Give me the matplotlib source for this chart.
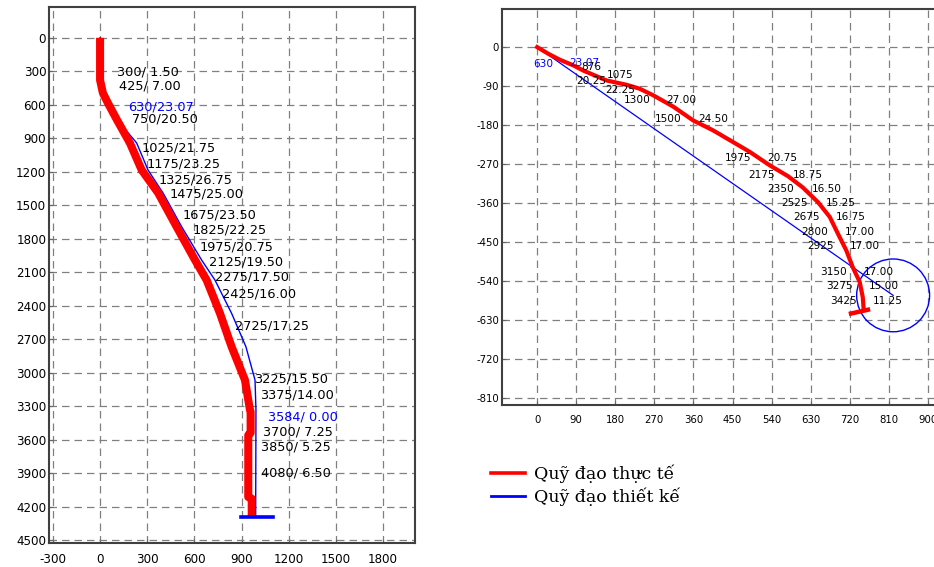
import matplotlib
matplotlib.use("Agg")
import matplotlib.pyplot as plt
import numpy as np
from matplotlib.lines import Line2D
from matplotlib.patches import Circle

plt.rcParams['font.family'] = ['DejaVu Sans']
plt.rcParams['axes.unicode_minus'] = False

# --- vertical section (left): displacement vs TVD ---
vs_actual = [0, 0, 18, 50, 108, 190, 265, 370, 487, 604, 678, 763, 837, 922, 954,
             958, 958, 943, 943, 965, 965]
tvd_actual = [0, 379, 495, 585, 737, 943, 1185, 1391, 1693, 1991, 2171, 2469, 2768, 3067, 3336,
              3350, 3540, 3560, 4115, 4130, 4295]

vs_plan = [0, 0, 20, 55, 95, 233, 305, 402, 519, 646, 731, 837, 928, 986, 992, 990]
tvd_plan = [0, 400, 510, 610, 711, 943, 1185, 1394, 1693, 1991, 2171, 2469, 2768, 3067, 3336, 4297]

vs_labels = ["300/ 1.50", "425/ 7.00", "630/23.07", "750/20.50", "1025/21.75", "1175/23.25",
             "1325/26.75", "1475/25.00", "1675/23.50", "1825/22.25", "1975/20.75", "2125/19.50",
             "2275/17.50", "2425/16.00", "2725/17.25", "3225/15.50", "3375/14.00", "3584/ 0.00",
             "3700/ 7.25", "3850/ 5.25", "4080/ 6.50"]
vs_label_x = [108, 120, 178, 203, 267, 298, 375, 445, 528, 591, 636, 693, 731, 776, 858,
              979, 1017, 1068, 1037, 1024, 1024]
vs_label_y = [307, 433, 621, 728, 988, 1131, 1275, 1400, 1588, 1723, 1875, 2010, 2144, 2296, 2583,
              3058, 3201, 3398, 3533, 3667, 3900]
vs_label_blue = ["630/23.07", "3584/ 0.00"]

# --- plan view (right): east vs north ---
east_actual = [0, 25, 52, 83, 106, 160, 206, 236, 267, 313, 359, 405, 451, 490, 536, 578, 612,
               647, 674, 693, 712, 727, 743, 750, 752]
north_actual = [0, -15, -29, -42, -54, -77, -87, -96, -111, -137, -169, -192, -219, -242, -273,
                -298, -324, -358, -392, -431, -469, -508, -542, -577, -604]

east_plan = [0, 820]
north_plan = [0, -573]
target_radius = 84

plan_md = ["630", "876", "1075", "1300", "1500", "1975", "2175", "2350", "2525", "2675",
           "2800", "2925", "3150", "3275", "3425"]
plan_md_x = [-10, 101, 160, 200, 271, 432, 487, 531, 563, 589, 609, 623, 653, 665, 674]
plan_md_y = [-40, -46, -65, -121, -165, -256, -294, -327, -360, -392, -427, -459, -519, -552, -586]
plan_inc = ["23.07", "20.25", "22.25", "27.00", "24.50", "20.75", "18.75", "16.50", "15.25",
            "16.75", "17.00", "17.00", "17.00", "15.00", "11.25"]
plan_inc_x = [75, 91, 156, 298, 370, 531, 589, 632, 665, 688, 708, 720, 752, 763, 773]
plan_inc_y = [-36, -78, -100, -121, -165, -256, -294, -327, -360, -392, -427, -459, -519, -552, -586]

grid_kw = dict(color='#808080', linestyle=(0, (6, 4)), linewidth=0.9)

fig = plt.figure(figsize=(9.34, 5.67), dpi=100)

# left panel
ax1 = fig.add_axes([49/934, 1-543/567, 366/934, 536/567])
ax1.plot(vs_plan, tvd_plan, color='#0000ff', lw=1.0, zorder=2)
ax1.plot(vs_actual, tvd_actual, color='#ff0000', lw=5.8, solid_capstyle='butt', zorder=3)
ax1.plot([895, 1102], [4297, 4297], color='#0000ff', lw=2.6, zorder=4)
for t, x, y in zip(vs_labels, vs_label_x, vs_label_y):
    c = '#0000ff' if t in vs_label_blue else 'black'
    ax1.text(x, y, t, fontsize=9.3, color=c, ha='left', va='center', zorder=5)
ax1.set_xlim(-325, 2004)
ax1.set_ylim(4527, -276)
ax1.set_xticks(np.arange(-300, 1801, 300))
ax1.set_yticks(np.arange(0, 4501, 300))
ax1.grid(True, **grid_kw)
ax1.tick_params(direction='in', length=3, color='#666666', labelsize=8.6, pad=2)
ax1.tick_params(axis='x', pad=7)

# right panel (extends past the right edge of the figure)
ax2 = fig.add_axes([502/934, 1-405/567, 448/934, 396/567])
ax2.plot(east_plan, north_plan, color='#0000ff', lw=0.9, zorder=2)
ax2.add_patch(Circle((east_plan[-1], north_plan[-1]), target_radius, fill=False,
                     edgecolor='#0000ff', lw=1.0, zorder=2))
ax2.plot(east_actual, north_actual, color='#ff0000', lw=3, zorder=3)
ax2.plot([718, 767], [-616, -605], color='#ff0000', lw=3.2, solid_capstyle='butt', zorder=3)
for i, (t, x, y) in enumerate(zip(plan_md, plan_md_x, plan_md_y)):
    ax2.text(x, y, t, fontsize=7.6, color='#0000ff' if i == 0 else 'black',
             ha='left', va='center', zorder=5)
for i, (t, x, y) in enumerate(zip(plan_inc, plan_inc_x, plan_inc_y)):
    ax2.text(x, y, t, fontsize=7.6, color='#0000ff' if i == 0 else 'black',
             ha='left', va='center', zorder=5)
ax2.set_xlim(-81, 951)
ax2.set_ylim(-826, 88)
ax2.set_xticks(np.arange(0, 901, 90))
ax2.set_yticks(np.arange(0, -811, -90))
ax2.grid(True, **grid_kw)
ax2.tick_params(direction='in', length=3, color='#666666', labelsize=7.3, pad=2)
ax2.tick_params(axis='x', pad=7)

for ax in (ax1, ax2):
    for s in ax.spines.values():
        s.set_color('#404040')
        s.set_linewidth(1.5)

handles = [Line2D([], [], color='#ff0000', lw=2.6), Line2D([], [], color='#0000ff', lw=2.0)]
fig.legend(handles, ["Quỹ đạo thực tế", "Quỹ đạo thiết kế"], loc='upper left',
           bbox_to_anchor=(482/934, 1-456/567), frameon=False, borderpad=0,
           handlelength=2.0, handletextpad=0.5, labelspacing=0.25,
           prop=dict(family='DejaVu Serif', size=12.5))

fig.savefig("out.png", dpi=100)
